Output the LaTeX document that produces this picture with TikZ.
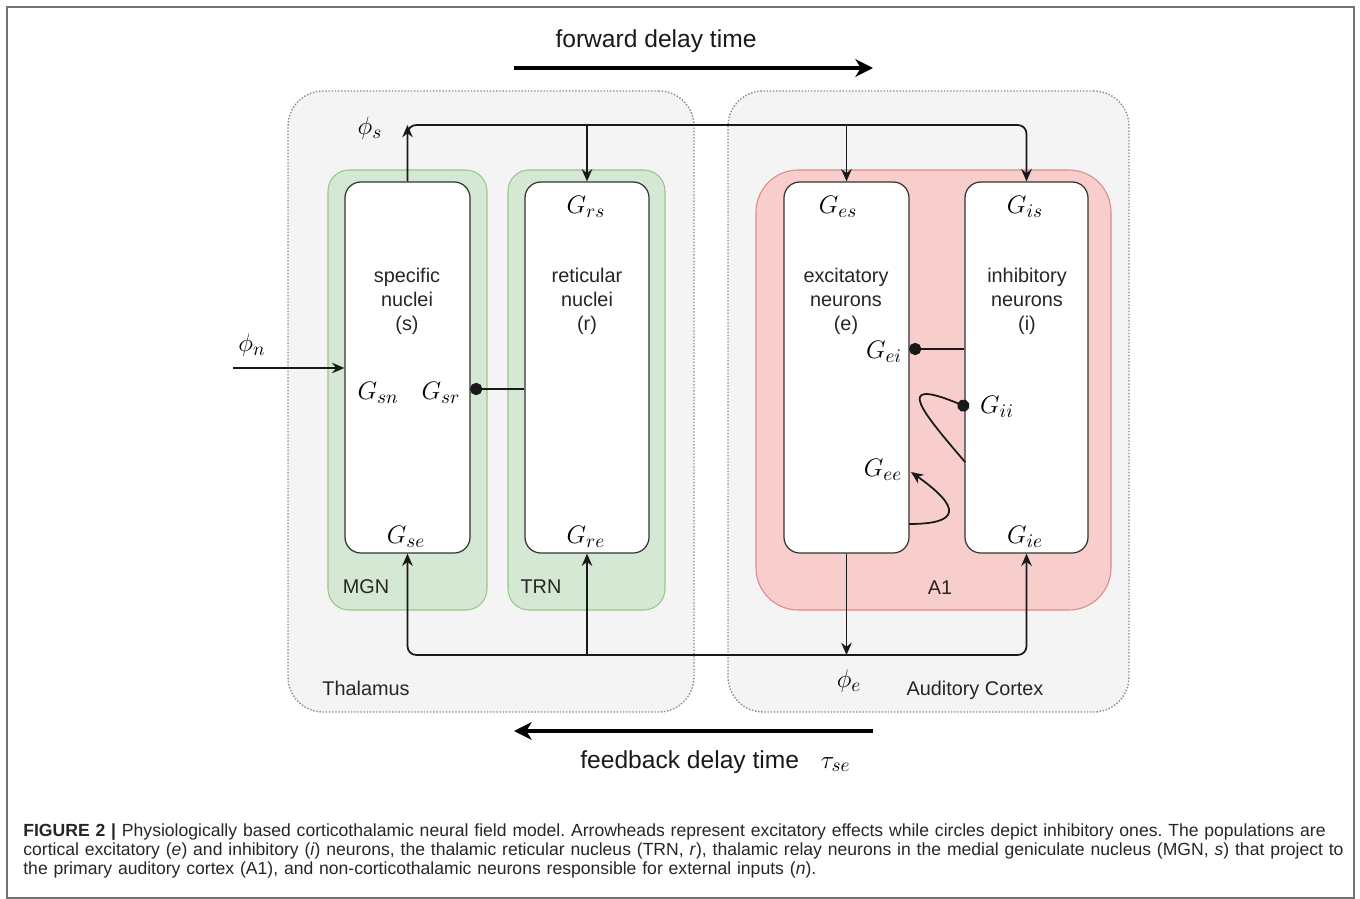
\documentclass[tikz,border=0pt]{standalone}
\usepackage{fontspec}
\setmainfont{Liberation Sans}
\usetikzlibrary{arrows.meta,fit,positioning}

\definecolor{regfill}{HTML}{F4F4F4}
\definecolor{regline}{HTML}{8A8A8A}
\definecolor{grnfill}{HTML}{D5E8D4}
\definecolor{grnline}{HTML}{9CC48D}
\definecolor{redfill}{HTML}{F8CECC}
\definecolor{redline}{HTML}{D88B88}

\begin{document}
\begin{tikzpicture}[x=0.02cm,y=-0.02cm,>={Stealth[length=7pt,width=6pt]}]
\tikzstyle{region}=[draw=regline, fill=regfill, densely dotted, line width=0.8pt, rounded corners=20pt, inner sep=0pt]
\tikzstyle{area}=[line width=0.6pt, inner sep=0pt]
\tikzstyle{pop}=[draw=black!80, fill=white, line width=0.7pt, rounded corners=9pt, inner sep=0pt]
\tikzstyle{wire}=[line width=1pt, black!90]
\tikzstyle{inhib}=[{Circle[length=7pt]}-]
\tikzstyle{delay}=[line width=1.8pt, -{Stealth[length=10pt,width=10pt,inset=3pt]}]
\tikzstyle{mlbl}=[font=\fontsize{15}{18}\selectfont, inner sep=0pt]
\tikzstyle{tlbl}=[font=\fontsize{11.3}{13.6}\selectfont, align=center, inner sep=0pt, text=black!85]
\tikzstyle{dlbl}=[font=\fontsize{14}{16}\selectfont, text=black!90]

\useasboundingbox (0,0) rectangle (1360,899);
\node[draw=black!55, line width=0.6pt, inner sep=0pt, fit={(7,7) (1354,898)}] (frame) {};

\node[region, fit={(288,91) (694,712)}] (thal) {};
\node[region, fit={(728,91) (1129,712)}] (ctx) {};
\node[area, draw=grnline, fill=grnfill, rounded corners=12pt, fit={(328,170) (487,610)}] (mgn) {};
\node[area, draw=grnline, fill=grnfill, rounded corners=12pt, fit={(508,170) (665,610)}] (trn) {};
\node[area, draw=redline, fill=redfill, rounded corners=24pt, fit={(756,170) (1111,610)}] (aone) {};
\node[pop, fit={(345,182) (470,553)}] (spec) {};
\node[pop, fit={(525,182) (649,553)}] (ret) {};
\node[pop, fit={(784,182) (909,553)}] (exc) {};
\node[pop, fit={(965,182) (1088,553)}] (inh) {};

\node[tlbl] (spectxt) at (407,301) {specific\\nuclei\\(s)};
\node[tlbl] (rettxt) at (587,301) {reticular\\nuclei\\(r)};
\node[tlbl] (exctxt) at (846,301) {excitatory\\neurons\\(e)};
\node[tlbl] (inhtxt) at (1027,301) {inhibitory\\neurons\\(i)};
\node[tlbl] (mgnlbl) at (366,587) {MGN};
\node[tlbl] (trnlbl) at (541,587) {TRN};
\node[tlbl] (aonelbl) at (940,588) {A1};
\node[tlbl] (thallbl) at (366,688) {Thalamus};
\node[tlbl] (ctxlbl) at (975,690) {Auditory Cortex};

\node[mlbl] (grs) at (586,207) {$G_{rs}$};
\node[mlbl] (gre) at (586,537) {$G_{re}$};
\node[mlbl] (gse) at (406,537) {$G_{se}$};
\node[mlbl] (gsn) at (378,393) {$G_{sn}$};
\node[mlbl] (gsr) at (441,393) {$G_{sr}$};
\node[mlbl] (ges) at (838,207) {$G_{es}$};
\node[mlbl] (gis) at (1025,207) {$G_{is}$};
\node[mlbl] (gie) at (1025,537) {$G_{ie}$};
\node[mlbl] (gei) at (884,352) {$G_{ei}$};
\node[mlbl] (gii) at (997,407) {$G_{ii}$};
\node[mlbl] (gee) at (883,470) {$G_{ee}$};
\node[mlbl] (phis) at (370,128) {$\phi_s$};
\node[mlbl] (phin) at (252,345) {$\phi_n$};
\node[mlbl] (phie) at (849,681) {$\phi_e$};

\coordinate (fwdA) at (514,68);
\coordinate (fwdB) at (873,68);
\draw[delay] (fwdA) -- (fwdB);
\node[dlbl, anchor=base] (fwdlbl) at (656,48) {forward delay time};
\coordinate (fbA) at (873,731);
\coordinate (fbB) at (514,731);
\draw[delay] (fbA) -- (fbB);
\node[dlbl, anchor=base west, inner sep=0pt] (fblbl) at (580,768) {feedback delay time};
\node[mlbl, base right=12pt of fblbl] (tau) {$\tau_{se}$};

\coordinate (topbus) at (0,125);
\coordinate (botbus) at (0,655);
\coordinate (ninput) at (233,368);
\coordinate (srdot) at (470,389);
\coordinate (eidot) at (909,349);
\coordinate (iidot) at (969,408);
\coordinate (iiend) at (965,462);
\coordinate (eestart) at (909,524);
\coordinate (eetip) at (911,472);

\draw[wire, ->, rounded corners=5pt] (spec.north) |- (inh.north |- topbus) -- (inh.north);
\draw[wire, ->] (spec.north) -- (spec.north |- topbus);
\draw[wire, ->] (ret.north |- topbus) -- (ret.north);
\draw[wire, ->] (exc.north |- topbus) -- (exc.north);
\draw[wire, <->, rounded corners=5pt] (spec.south) |- (inh.south |- botbus) -- (inh.south);
\draw[wire, ->] (ret.south |- botbus) -- (ret.south);
\draw[wire, ->] (exc.south) -- (exc.south |- botbus);
\draw[wire, ->] (ninput) -- (spec.west |- ninput);
\draw[wire, inhib] (srdot) -- (ret.west |- srdot);
\draw[wire, inhib] (eidot) -- (inh.west |- eidot);
\draw[wire, inhib] (iidot) .. controls (890,375) and (925,415) .. (iiend);
\draw[wire, ->] (eestart) .. controls (960,524) and (962,508) .. (eetip);

\node[anchor=north west, inner sep=0pt, text width=26.6cm, align=left, font=\fontsize{10}{10.8}\selectfont\frenchspacing, text=black!85] (caption) at (23,823)
{\textbf{FIGURE 2 |} Physiologically based corticothalamic neural field model. Arrowheads represent excitatory effects while circles depict inhibitory ones. The populations are\\
cortical excitatory (\textit{e}) and inhibitory (\textit{i}) neurons, the thalamic reticular nucleus (TRN, \textit{r}), thalamic relay neurons in the medial geniculate nucleus (MGN, \textit{s}) that project to\\
the primary auditory cortex (A1), and non-corticothalamic neurons responsible for external inputs (\textit{n}).};
\end{tikzpicture}
\end{document}
